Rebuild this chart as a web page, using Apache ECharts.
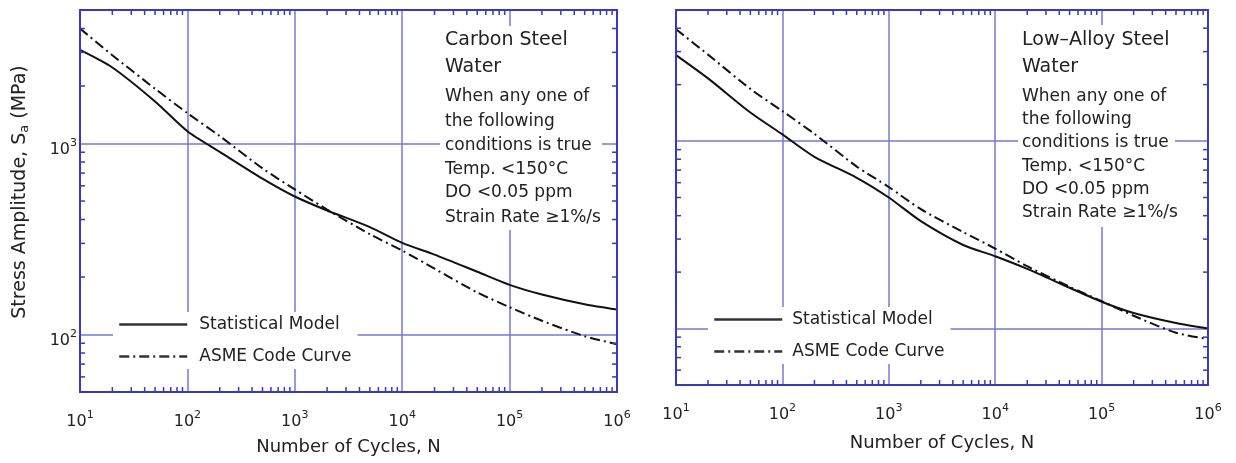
<!DOCTYPE html>
<html><head><meta charset="utf-8">
<script src="https://cdn.jsdelivr.net/npm/echarts@6/dist/echarts.min.js"></script>
<style>html,body{margin:0;padding:0;background:#fff}#c{width:1236px;height:463px}</style>
</head><body><div id="c"></div>
<script>
// ---------- data ----------
const cycles = [10, 20, 50, 100, 200, 500, 1000, 2000, 5000, 10000, 20000, 50000, 100000, 200000, 500000, 1000000];
const carbonStatistical = [3090, 2500, 1660, 1160, 905, 655, 528, 446, 365, 302, 262, 213, 182, 162, 144, 135];
const carbonASME        = [4000, 2900, 1935, 1442, 1094, 741, 575, 451, 335, 275, 221, 166, 139, 118, 98, 89];
const lowAlloyStatistical = [2875, 2160, 1420, 1085, 824, 637, 500, 374, 279, 243, 208, 165, 139, 121, 107, 100];
const lowAlloyASME        = [3950, 2890, 1897, 1445, 1092, 731, 569, 433, 327, 267, 215, 167, 140, 117, 95, 88];
const seriesNames = ['Statistical Model', 'ASME Code Curve'];
const xTitle = 'Number of Cycles, N';
const carbonNote = ['Carbon Steel', 'Water', 'When any one of', 'the following', 'conditions is true', 'Temp. <150°C', 'DO <0.05 ppm', 'Strain Rate ≥1%/s'];
const lowAlloyNote = ['Low–Alloy Steel', 'Water', 'When any one of', 'the following', 'conditions is true', 'Temp. <150°C', 'DO <0.05 ppm', 'Strain Rate ≥1%/s'];
const xDecades = [10, 100, 1000, 10000, 100000];
const yDecades = [10, 100, 1000];
const minorMult = [2, 3, 4, 5, 6, 7, 8, 9];

// ---------- style ----------
const FONT = 'DejaVu Sans';
const BORDER = '#3838c2';
const GRIDC = '#7676dc';
const TXT = '#222';

function pow10Label(v) {
  const e = Math.log10(v);
  const r = Math.round(e);
  if (Math.abs(e - r) > 1e-6) return '';
  return '{b|10}{s|' + r + '}';
}
const supRich = {
  b: {fontFamily: FONT, fontSize: 16, lineHeight: 20, color: TXT, verticalAlign: 'bottom'},
  s: {fontFamily: FONT, fontSize: 11, lineHeight: 12, color: TXT, verticalAlign: 'top'}
};

const tickData = [];
xDecades.forEach(d => minorMult.forEach(m => tickData.push([d * m, 100, 0])));
yDecades.forEach(d => minorMult.forEach(m => { const v = d * m; if (v > 50 && v < 5000) tickData.push([100, v, 1]); }));
tickData.push([100, 100, 2]);

function tickRender(params, api) {
  const cs = params.coordSys;
  const kind = api.value(2);
  const st = {stroke: BORDER, lineWidth: 1.5};
  const L = 5;
  if (kind === 0) {
    const p = api.coord([api.value(0), api.value(1)]);
    const b = cs.y + cs.height;
    return {type: 'group', children: [
      {type: 'line', shape: {x1: p[0], y1: b, x2: p[0], y2: b - L}, style: st},
      {type: 'line', shape: {x1: p[0], y1: cs.y, x2: p[0], y2: cs.y + L}, style: st}
    ]};
  } else if (kind === 1) {
    const p = api.coord([api.value(0), api.value(1)]);
    const r = cs.x + cs.width;
    return {type: 'group', children: [
      {type: 'line', shape: {x1: cs.x, y1: p[1], x2: cs.x + L, y2: p[1]}, style: st},
      {type: 'line', shape: {x1: r, y1: p[1], x2: r - L, y2: p[1]}, style: st}
    ]};
  }
  return {type: 'rect', shape: {x: cs.x, y: cs.y, width: cs.width, height: cs.height},
    style: {stroke: BORDER, lineWidth: 2, fill: 'none'}};
}

function xAxisDef(idx, gap) {
  return {
    type: 'log', gridIndex: idx, min: 10, max: 1000000, logBase: 10,
    name: xTitle, nameLocation: 'middle', nameGap: gap,
    nameTextStyle: {fontFamily: FONT, fontSize: 18, color: TXT},
    axisLine: {show: false}, axisTick: {show: false},
    axisLabel: {formatter: pow10Label, rich: supRich, margin: 18, showMinLabel: true, showMaxLabel: true},
    splitLine: {show: true, showMinLine: false, showMaxLine: false, lineStyle: {color: GRIDC, width: 1.5}},
    minorTick: {show: false}, minorSplitLine: {show: false}
  };
}
function yAxisDef(idx, showLabels) {
  return {
    type: 'log', gridIndex: idx, min: 50, max: 5000, logBase: 10,
    axisLine: {show: false}, axisTick: {show: false},
    axisLabel: {show: showLabels, formatter: pow10Label, rich: supRich, margin: 3, padding: [8, 0, 0, 0]},
    splitLine: {show: true, showMinLine: false, showMaxLine: false, lineStyle: {color: GRIDC, width: 1.5}}
  };
}
function lineSeries(name, xi, data, dashed) {
  return {
    type: 'line', name: name, xAxisIndex: xi, yAxisIndex: xi,
    data: cycles.map((n, i) => [n, data[i]]),
    symbol: 'none', smooth: 0.25, z: 3,
    itemStyle: {color: '#111'},
    lineStyle: {color: '#111', width: 2, type: dashed ? [10, 4, 2, 4] : 'solid'}
  };
}
function legendDef(left, top, textPad) {
  return {
    data: seriesNames, orient: 'vertical', left: left, top: top,
    itemWidth: 68, itemHeight: 14, itemGap: 15,
    padding: [4, 6, 4, 5], backgroundColor: '#fff', z: 6,
    textStyle: {fontFamily: FONT, fontSize: 17, color: TXT, padding: [0, 0, 0, textPad]},
    itemStyle: {opacity: 0},
    lineStyle: {width: 2.5, color: '#333'}
  };
}
function noteGraphics(x, ys, lines, box) {
  const els = [{type: 'rect', z: 100, shape: box, style: {fill: '#fff'}}];
  lines.forEach((t, i) => {
    els.push({type: 'text', z: 101, x: x, y: ys[i],
      style: {text: t, fill: TXT, fontFamily: FONT, fontSize: i < 2 ? 19 : 17, align: 'left', verticalAlign: 'middle'}});
  });
  return els;
}

const chart = echarts.init(document.getElementById('c'), null, {renderer: 'canvas'});
chart.setOption({
  backgroundColor: '#fff',
  animation: false,
  grid: [
    {left: 80, top: 10, width: 537, height: 382},
    {left: 676, top: 10, width: 532, height: 375}
  ],
  xAxis: [xAxisDef(0, 46), xAxisDef(1, 49)],
  yAxis: [yAxisDef(0, true), yAxisDef(1, false)],
  legend: [legendDef(113, 312, 7), legendDef(708, 307, 5)],
  series: [
    lineSeries(seriesNames[0], 0, carbonStatistical, false),
    lineSeries(seriesNames[1], 0, carbonASME, true),
    lineSeries(seriesNames[0], 1, lowAlloyStatistical, false),
    lineSeries(seriesNames[1], 1, lowAlloyASME, true),
    {type: 'custom', name: 'ticks0', xAxisIndex: 0, yAxisIndex: 0, data: tickData, renderItem: tickRender, silent: true, z: 8, encode: {x: 0, y: 1}},
    {type: 'custom', name: 'ticks1', xAxisIndex: 1, yAxisIndex: 1, data: tickData, renderItem: tickRender, silent: true, z: 8, encode: {x: 0, y: 1}}
  ],
  graphic: [
    {type: 'text', z: 101, x: 20, y: 192, rotation: Math.PI / 2,
      style: {text: '{n|Stress Amplitude, S}{sub|a}{n| (MPa)}', align: 'center', verticalAlign: 'middle',
        rich: {n: {fontFamily: FONT, fontSize: 19, lineHeight: 22, fill: TXT, verticalAlign: 'middle'},
               sub: {fontFamily: FONT, fontSize: 13, lineHeight: 12, fill: TXT, verticalAlign: 'bottom'}}}},
    ...noteGraphics(445, [40, 67, 97, 122, 146, 170, 193, 218], carbonNote, {x: 440, y: 26, width: 162, height: 204}),
    ...noteGraphics(1022, [40, 67, 97, 120, 143, 167, 190, 213], lowAlloyNote, {x: 1018, y: 25, width: 157, height: 202})
  ]
});
</script></body></html>
